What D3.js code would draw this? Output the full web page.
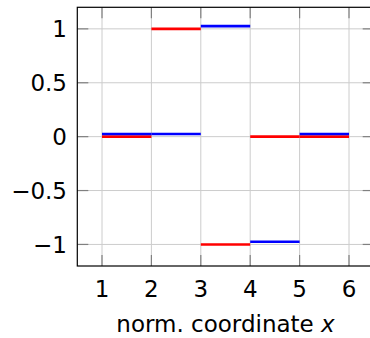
<!DOCTYPE html>
<html><head><meta charset="utf-8">
<script src="https://cdn.jsdelivr.net/npm/d3@7"></script>
<style>body{margin:0;background:#fff}svg{display:block}text{font-family:"DejaVu Sans",sans-serif}</style>
</head><body><svg id="c" width="370" height="338"></svg>
<script>
const cellStarts = [1, 2, 3, 4, 5];
const redValues = [0, 1, -1, 0, 0];
const blueValues = [0.025, 0.025, 1.025, -0.975, 0.025];
const xTicks = [1, 2, 3, 4, 5, 6];
const yTicks = [-1, -0.5, 0, 0.5, 1];

const svg = d3.select("#c");
const L = 77.3, R = 373.7, T = 7.3, B = 266;
const x = d3.scaleLinear().domain([0.5, 6.5]).range([L, R]);
const y = d3.scaleLinear().domain([-1.2, 1.2]).range([B, T]);
const fmt = v => (v < 0 ? "\u2212" : "") + Math.abs(v);

// grid
svg.append("g").selectAll("line").data(xTicks).join("line")
  .attr("x1", d => x(d)).attr("x2", d => x(d)).attr("y1", T).attr("y2", B)
  .attr("stroke", "#cccccc").attr("stroke-width", 1);
svg.append("g").selectAll("line").data(yTicks).join("line")
  .attr("x1", L).attr("x2", R).attr("y1", d => y(d)).attr("y2", d => y(d))
  .attr("stroke", "#cccccc").attr("stroke-width", 1);

// tick marks (inside, all four sides)
const tl = 11;
const tk = svg.append("g").attr("stroke", "#808080").attr("stroke-width", 1.2);
tk.selectAll(".xb").data(xTicks).join("line").attr("x1", d => x(d)).attr("x2", d => x(d)).attr("y1", B).attr("y2", B - tl);
tk.selectAll(".xt").data(xTicks).join("line").attr("x1", d => x(d)).attr("x2", d => x(d)).attr("y1", T).attr("y2", T + tl);
tk.selectAll(".yl").data(yTicks).join("line").attr("y1", d => y(d)).attr("y2", d => y(d)).attr("x1", L).attr("x2", L + tl);
tk.selectAll(".yr").data(yTicks).join("line").attr("y1", d => y(d)).attr("y2", d => y(d)).attr("x1", R).attr("x2", R - tl);

// series
function drawSeries(vals, color) {
  svg.append("g").selectAll("line").data(cellStarts).join("line")
    .attr("x1", d => x(d)).attr("x2", d => x(d + 1))
    .attr("y1", (d, i) => y(vals[i])).attr("y2", (d, i) => y(vals[i]))
    .attr("stroke", color).attr("stroke-width", 2.6);
}
drawSeries(redValues, "#ff0000");
drawSeries(blueValues, "#0000ff");

// frame
svg.append("rect").attr("x", L).attr("y", T).attr("width", R - L).attr("height", B - T)
  .attr("fill", "none").attr("stroke", "#000").attr("stroke-width", 1.2);

// tick labels
svg.append("g").selectAll("text").data(xTicks).join("text")
  .attr("x", d => x(d)).attr("y", 297).attr("text-anchor", "middle")
  .attr("font-size", 23).text(d => d);
svg.append("g").selectAll("text").data(yTicks).join("text")
  .attr("x", 67).attr("y", d => y(d) + 8.3).attr("text-anchor", "end")
  .attr("font-size", 23).text(fmt);

// axis label
const xl = svg.append("text").attr("x", (L + R) / 2).attr("y", 332).attr("text-anchor", "middle").attr("font-size", 23);
xl.append("tspan").text("norm. coordinate ");
xl.append("tspan").attr("font-style", "italic").text("x");
</script></body></html>
